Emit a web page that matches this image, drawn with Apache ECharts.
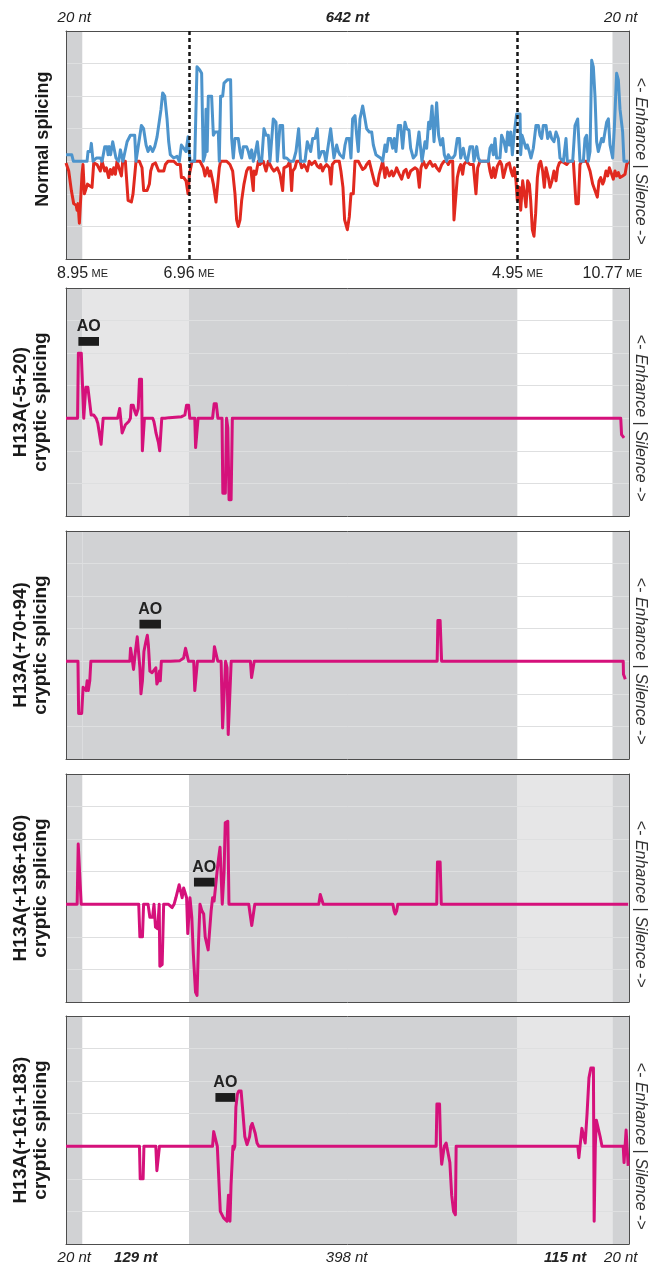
<!DOCTYPE html>
<html>
<head>
<meta charset="utf-8">
<title>H13A splicing</title>
<script src="https://cdn.jsdelivr.net/npm/echarts@6.0.0/dist/echarts.min.js"></script>
<style>
  html, body { margin: 0; padding: 0; background: #fff; }
  #chart { width: 648px; height: 1265px; }
</style>
</head>
<body>
<div id="chart"></div>
<script>
// region edges (nt): 20 | 129 | 398 | 115 | 20
var regionEdges = [0, 20, 149, 547, 662, 682];
var topLabels = ['20 nt', '642 nt', '20 nt'];
var topLabelAt = [10, 341, 672];
var bottomLabels = ['20 nt', '129 nt', '398 nt', '115 nt', '20 nt'];
var bottomLabelAt = [10, 84.5, 340, 604.5, 672];
var meScores = ['8.95', '6.96', '4.95', '10.77'];
var meSites = [20, 149, 547, 662];

var panelTitles = [
  'Normal splicing',
  'H13A(-5+20)\ncryptic splicing',
  'H13A(+70+94)\ncryptic splicing',
  'H13A(+136+160)\ncryptic splicing',
  'H13A(+161+183)\ncryptic splicing'
];
// region shade per panel: 0 white, 1 light grey, 2 grey
var panelShades = [
  [2, 0, 0, 0, 2],
  [2, 1, 2, 0, 2],
  [2, 2, 2, 0, 2],
  [2, 0, 2, 1, 2],
  [2, 0, 2, 1, 2]
];
// AO target (nt) and the level its bar sits at
var aoFrom = [null, 15, 89, 155, 181];
var aoTo = [null, 40, 115, 180, 205];
var aoLevel = [null, 2.36, 1.14, 0.68, 1.5];

// normal splicing, [nt, score]
var normalEnhance = [
  [0,0.2],[7,0.2],[9,0],[25.5,0],[26.7,0.3],[29.5,0.3],[30.7,0.55],[32.8,0],[36.8,0.1],[41.6,0.1],[43.7,0],
  [47,0.45],[49.7,0.45],[51,0.2],[52.5,0.45],[54,0.2],[56.6,0.6],[59,0.6],[60.5,0.1],[63.8,0],[65.9,0.35],
  [67.9,0.35],[69,0],[74,0.6],[76,0.6],[78,0.8],[83.2,0.8],[84.8,0],[91.3,1.1],[94,1.0],[97,0.5],[99.4,0.3],
  [102,0.45],[105,0.3],[107.5,0.45],[110.3,0.75],[112.3,0.8],[115.1,1.6],[117.1,2.1],[119.6,2.0],[122.4,1.3],
  [124.4,0.6],[126.4,0.2],[130.5,0.1],[134.5,0.15],[137.3,0],[139.8,0.5],[142.6,0.4],[145.4,0.3],[147.8,0.75],
  [150.3,0],[155.9,0],[158.7,2.9],[162,2.8],[164.3,2.7],[166.3,0],[168.5,0.2],[169.6,1.6],[171,0.3],[172.4,2.0],
  [176.4,2.0],[178.5,0.8],[180.5,0.9],[184.5,0.9],[185.7,0],[187.3,2.0],[189.8,2.0],[191.4,2.4],[193.8,2.4],
  [195.4,2.5],[199.4,2.5],[200.7,0.7],[202.7,0.1],[204.7,0.7],[208.7,0.7],[210.8,0.3],[212.8,0.1],[214.8,0.45],
  [218.8,0.45],[220.9,0.3],[222.9,0.1],[224.9,0.35],[226.9,0],[228.9,0.2],[231.8,0.6],[234.2,0],[237,0],
  [239.8,1.0],[242.3,0.8],[245.1,0.8],[247.1,0],[251.1,1.3],[254.4,1.2],[256,0],[259.2,1.1],[262.4,1.1],
  [264,0.1],[267.3,0.1],[271.3,0],[275.4,0],[278.6,0.3],[281.8,1.0],[284.2,0],[289.5,0],[292.3,0.6],[294.7,0.6],
  [296.4,0.3],[298.8,0.7],[301.6,0.7],[304.4,1.0],[306.5,0.1],[309.7,0.3],[312.5,0.3],[314.9,0],[320.6,1.0],
  [323,1.0],[324.6,0.1],[327.9,0.5],[329.9,0.3],[331.9,0.2],[335.9,0.1],[338,0.5],[340,0.7],[343.2,0.7],
  [345.2,0.1],[347.2,1.3],[350.1,1.4],[352.1,0.8],[354.1,0.3],[356.1,1.3],[359.4,1.7],[362.2,1.3],[364.2,1.0],
  [367.4,0.9],[370.3,0.9],[372.3,0.5],[375.5,0.2],[378.3,0.15],[381.2,0.1],[383.6,0],[386.4,0.5],[388.4,0.3],
  [390.5,0.7],[393.3,0.7],[395.7,0.4],[397.7,0.7],[399.7,0.3],[402.6,1.1],[405.4,1.1],[407.8,0.4],[410.6,1.2],
  [412.7,1.0],[415.5,0.95],[417.5,0.4],[420.7,0.1],[424,0.2],[427.6,0.9],[429.6,0.9],[431.2,0],[434.9,0.6],
  [436.9,0.4],[439.3,1.2],[440.9,1.0],[443.4,1.7],[445.8,0.6],[449,1.8],[451.4,0.8],[453.8,0.5],[456.3,0.7],
  [458.3,0.2],[461.1,0],[463.1,0.2],[465.2,0.1],[468.4,0.1],[471.2,0.2],[474,0.7],[476.5,0.7],[478.1,0.1],
  [481.3,0.4],[483.7,0.1],[486.2,0],[489.4,0.45],[492.6,0.45],[494.2,0],[497.5,0.45],[499.5,0.1],[501.5,0],
  [511.6,0],[513.6,0.4],[515.6,0.5],[517.7,0.2],[519.7,0.7],[521.7,0.1],[525.7,0.1],[527.7,0.8],[530.6,0.6],
  [533,0.3],[535,0.9],[537,0.5],[538.7,0.9],[540.7,0.2],[543.1,0.9],[545.9,1.45],[550,1.45],[550.8,0.2],
  [552.4,0.8],[554.8,0.6],[557.2,0.4],[558.8,0.5],[561.3,0.3],[563.3,0.1],[566.1,0.4],[569.3,1.1],[572.2,1.1],
  [574.2,0.8],[576.2,0.7],[578.2,1.1],[581.5,1.1],[583.5,0.7],[586.3,0.9],[588.3,0.7],[591.1,0.6],[593.6,0.9],
  [596.4,0.7],[598.4,0.1],[602.5,0],[605.7,0.7],[607.3,0],[613.8,0],[616.6,1.1],[619.8,1.3],[622.6,0],
  [626.7,0],[628.7,0.7],[630.7,0.8],[632.7,0],[634.8,0.3],[636.8,3.1],[638.8,2.9],[640.8,2.0],[642.8,0.6],
  [644.8,0.3],[646.9,0.5],[648.9,0.7],[650.9,0.6],[652.9,0.6],[654.9,1.2],[657,1.3],[659,0.5],[662.2,0.1],
  [664.2,1.0],[667,2.7],[669.1,2.5],[671.1,1.6],[674.3,0.9],[675.9,0],[681.2,0]
];
var normalSilence = [
  [0,-0.05],[3.3,-0.3],[6.5,-0.9],[9.3,-1.3],[12.2,-1.35],[13.4,-1.5],[14.6,-1.3],[16.2,-1.9],[17.8,-1.9],
  [19.4,-0.4],[20.6,-0.1],[22.3,-1.0],[24.5,-1.0],[26,-0.7],[28.5,-0.75],[31.5,-0.8],[33.6,-0.05],[37.6,-0.1],
  [39.6,-0.1],[41.6,-0.3],[43.7,0],[46.9,-0.3],[48.9,-0.2],[51.7,-0.5],[53.8,-0.25],[55.8,-0.4],[57.8,-0.2],
  [59.8,-0.4],[61.8,0],[63.8,0],[67.1,-0.45],[68.7,0],[71.9,0],[75.2,-1.2],[79.2,-1.25],[81.2,-1.0],[83.2,-0.95],
  [84.8,0],[88.9,0],[92.1,-0.2],[94.1,-0.9],[98.2,-0.9],[101,-0.7],[102.6,-0.3],[105,-0.1],[108.3,-0.05],
  [112.3,-0.3],[115.5,-0.3],[118.4,-0.3],[120.4,-0.1],[123.6,0],[130.5,0],[134.5,-0.1],[138.5,-0.1],[139.8,-0.5],
  [142.6,-0.5],[145.4,-0.6],[147.8,-1.0],[149.5,-0.4],[152.7,0],[162.3,0],[166.3,-0.2],[168.4,-0.45],
  [171.2,-0.2],[173.6,-0.45],[175.2,-0.3],[178.5,-0.7],[181.7,-1.25],[183.3,-1.2],[185.7,-0.2],[187.3,0],
  [194.6,0],[198.6,-0.1],[201.9,-0.3],[204.7,-1.0],[206.7,-1.8],[208.7,-2.0],[210.8,-1.8],[212.8,-1.2],
  [215.6,-0.7],[218.8,-0.3],[220.9,-0.2],[223.7,-0.2],[226.9,-0.9],[227.7,-0.3],[230.1,-0.4],[233,0],[235,-0.1],
  [239,0],[242.3,-0.3],[245.1,0],[249.1,-0.2],[251.9,-0.3],[256,-0.2],[259.2,-0.4],[262.4,-0.9],[264,-0.2],
  [268.1,-0.15],[271.3,0],[273.3,-0.9],[274.6,-0.3],[277.4,-0.2],[279.4,0],[283.4,0],[285.5,-0.2],[288.3,-0.1],
  [290.7,-0.2],[292.3,-0.3],[294.7,0],[297.6,-0.1],[301.6,0],[304.4,-0.15],[306.9,-0.2],[308.5,-0.1],
  [310.9,-0.3],[312.5,-0.2],[315.7,-0.1],[319,-0.2],[321,-0.7],[322.6,-0.1],[325.8,0],[331,0],[333,-0.3],
  [335.5,-0.8],[337.5,-1.8],[340.8,-2.1],[343.2,-1.7],[345.2,-1.0],[348,-1.0],[350.1,0],[354.1,0],[356.1,-0.1],
  [359.4,-0.25],[362.2,-0.2],[364.2,-0.1],[367.4,0],[370.3,-0.3],[372.3,-0.5],[374.3,-0.7],[377.1,-0.75],
  [379.5,-0.4],[381.2,-0.45],[383.6,0],[386.4,-0.5],[388.4,-0.2],[391.7,-0.45],[394.5,-0.3],[396.5,-0.45],
  [398.5,-0.35],[400.5,-0.2],[403.8,-0.4],[406.6,-0.55],[409.4,-0.3],[411.9,-0.25],[414.7,-0.5],[417.5,-0.3],
  [419.9,-0.35],[422.8,-0.2],[425.6,-0.25],[428,-0.8],[430,-0.2],[432.8,0],[436.1,-0.2],[438.1,-0.1],[440.9,0],
  [444.2,-0.15],[447,-0.1],[449,-0.2],[452.2,-0.3],[455.1,-0.1],[457.9,0],[461.1,0],[463.1,-0.1],[465.2,0],
  [468.4,0],[470,-1.8],[472.4,-1.8],[474,-0.5],[476.5,-0.2],[478.1,-0.1],[480.5,-0.4],[482.1,-0.1],[485.3,0],
  [489.4,-0.1],[493.4,-0.1],[496.6,-1.0],[498.7,-0.2],[501.5,0],[511.6,0],[513.6,-0.3],[515.6,-0.5],
  [517.7,-0.2],[519.7,-0.5],[522.5,-0.15],[525.7,0],[527.7,-0.1],[529.8,-0.5],[531.8,-0.45],[533.8,-0.1],
  [537,-0.05],[539.1,-0.3],[541.1,-0.45],[543.1,-0.2],[545.1,-0.6],[546.7,-1.2],[549.1,-0.8],[550.8,-1.5],
  [553.2,-0.6],[554.8,-0.9],[557.2,-1.4],[559.2,-0.6],[561.3,-0.7],[562.9,-1.2],[564.9,-2.1],[566.9,-2.3],
  [568.9,-1.6],[571,-0.5],[573,-0.1],[575,0],[577.4,-0.3],[579.4,-0.8],[581.5,-0.2],[584.3,-0.5],[586.3,-0.8],
  [588.7,-0.6],[591.1,-0.3],[593.6,-0.6],[595.6,-0.2],[597.6,-0.05],[600.4,0],[606.5,-0.1],[609.7,0],[614.6,0],
  [617.8,-1.3],[620.6,-1.3],[622.6,-0.1],[624.7,0],[630.7,0],[634.8,-0.3],[638,-0.7],[640.8,-0.9],[643.6,-1.1],
  [645.7,-0.6],[647.7,-0.5],[650.1,-0.7],[651.7,-0.6],[654.1,-0.3],[656.2,-0.45],[658.2,-0.2],[661,-0.4],
  [663,-0.55],[665,-0.3],[667,-0.45],[669.1,-0.35],[671.1,-0.5],[674.3,-0.45],[677.2,-0.4],[679.2,-0.1],[681.2,0]
];

// cryptic splicing with each AO, [nt, score]
var crypticM5P20 = [
  [0,0],[14,0],[15,2.0],[18.5,2.0],[21.5,0],[24,0.95],[26.5,0.95],[28.5,0.9],[30.5,0.1],[33.5,0.1],[36.5,0],
  [38.5,-0.15],[40,-0.1],[42.5,-0.8],[44,-0.8],[45,0],[62.5,0],[65,0.3],[66.5,0.3],[68,-0.45],[70,-0.4],
  [72,-0.2],[74,-0.25],[76,-0.1],[78,0],[79,0.4],[81.5,0.4],[83.5,0.2],[85,0.1],[87.5,0.3],[89,1.2],[91.5,1.2],
  [92.5,-1.0],[94,-1.0],[95,0],[105,0],[106.5,-0.1],[108,-0.3],[109,-0.45],[110.5,-0.4],[112,-0.75],[113.5,-1.0],
  [115,-1.0],[116,0],[120,0],[125,0.02],[140,0.05],[144,0.1],[146,0.4],[148.5,0.4],[150,0],[156,0],[157,-0.9],
  [159,-0.9],[160,0],[177.5,0],[179.5,0.45],[182,0.45],[184,0],[189,0],[190,-2.3],[193,-2.3],[194.5,0],
  [196,-0.3],[197.5,-2.5],[200,-2.5],[201.5,0],[672,0],[673,-0.5],[676,-0.6]
];
var crypticP70P94 = [
  [0,0],[14.5,0],[15.3,-1.6],[19,-1.6],[20.7,-0.8],[22.5,-0.8],[24.3,-0.9],[25.6,-0.6],[27,-0.9],[28.8,-0.6],
  [30.1,0],[77.3,0],[78.2,0.4],[80,0.1],[81.8,-0.25],[84.1,0.3],[86.3,0.75],[88.1,0.7],[89.5,-0.2],[90.8,-1.0],
  [92.6,-0.6],[94.4,0.3],[96.7,0.6],[98.5,0.8],[99.8,0.5],[101.6,-0.3],[104.3,-0.35],[106.5,-0.3],[108.8,-0.2],
  [110.1,-0.7],[111.5,-0.6],[113.3,-0.3],[114.2,-0.6],[115.5,0],[126.8,0],[129,-0.05],[138,0.02],[140.3,0.05],
  [142.5,0.1],[144.8,0.4],[147,0.4],[148.4,0],[154.7,0],[156,-0.9],[158.3,-0.9],[159.2,0],[178.5,0],[179.8,0.45],
  [182.1,0.45],[183.9,0],[187.9,0],[189.7,-2.05],[191.9,-2.05],[193.3,0],[195.1,-0.2],[196.5,-2.25],
  [198.7,-2.25],[200.1,0],[223.4,0],[224.8,-0.5],[226.6,-0.5],[228,0],[449.6,0],[450.5,1.25],[453.2,1.25],
  [455,0],[675,0],[675.3,-0.4],[677.5,-0.55]
];
var crypticP136P160 = [
  [0,0],[13.5,0],[14.8,1.85],[17.1,1.85],[18.4,0],[88.1,0],[89.5,-1.0],[92.6,-1.0],[94,0],[99.4,0],[101.6,-0.4],
  [104.8,-0.4],[106.6,0],[108.4,-0.7],[111.1,-0.75],[112.9,0],[113.7,-1.9],[116.5,-1.85],[118.3,0],[124.2,0],
  [126.4,0.05],[128.6,-0.1],[130.9,0],[133.1,0.2],[135.4,0.2],[137.1,0.6],[138.9,0.6],[140.7,0.2],[142.5,0.5],
  [144.3,0.45],[146.1,0.2],[147.5,-0.9],[148.8,-0.9],[150.2,0.2],[152.4,-0.4],[154.2,-1.5],[156.9,-2.7],
  [158.7,-2.8],[160.5,-1.2],[162.3,0],[164.6,-0.2],[166.8,-0.3],[168.6,-1.0],[170.4,-1.0],[172.2,-1.4],
  [174,-1.4],[175.8,-0.2],[177.6,0.2],[179.4,0.1],[181.2,0.1],[183,1.0],[184.8,1.4],[186.6,1.75],[188.4,1.7],
  [189.3,0],[191.5,1.0],[192.9,2.5],[196,2.55],[197.4,0],[200,0],[221.4,0],[223,-0.3],[225,-0.65],[227.3,-0.65],
  [228.7,0],[306.2,0],[308,0.3],[310.2,0.3],[311.6,0],[396,0],[397.4,-0.2],[398.8,-0.3],[400.6,-0.2],[401.9,0],
  [449.1,0],[450,1.3],[453.2,1.3],[454.6,0],[681,0]
];
var crypticP161P183 = [
  [0,0],[89,0],[89.9,-1.0],[93.4,-1.0],[94.4,0],[108.8,0],[110.1,-0.75],[112.3,-0.75],[113.2,0],[177.5,0],
  [178.9,0.45],[180.6,0.45],[183.3,0],[185.1,0],[186.9,-2.0],[189.1,-2.0],[190.9,-2.2],[193.2,-2.2],[195,-2.3],
  [196.8,-1.5],[198.6,-2.3],[199.9,-1.2],[202.2,0],[203.1,-0.1],[204.5,0],[205.8,1.2],[207.6,1.6],[209.4,1.7],
  [212.1,1.7],[214.4,1.0],[216.6,0.3],[219.3,0.05],[221.1,0.05],[222.4,0.3],[223.8,0.6],[225.6,0.7],[227.8,0.7],
  [229.2,0.4],[231.4,0.1],[233.6,0],[448.4,0],[449.3,1.3],[452.5,1.3],[453.8,0],[455.1,-0.55],[456.9,-0.55],
  [458.2,0],[460.5,0.1],[462.7,0.05],[465,-0.5],[467.2,-1.5],[469.5,-2.0],[471.7,-2.1],[472.6,0],[620,0],
  [621.3,-0.35],[623.5,-0.35],[624.9,0.55],[627.1,0.5],[628.9,0.1],[631.2,1.0],[633.5,2.1],[635.8,2.4],
  [638.9,2.4],[639.8,-2.3],[641.2,0],[642.5,0.8],[644.8,0.8],[647,0.3],[649.3,0],[675,0],[676,-0.5],
  [677.5,-0.5],[678.5,0.5],[680,0.5],[681,-0.6]
];
var crypticData = [null, crypticM5P20, crypticP70P94, crypticP136P160, crypticP161P183];

// styles
var FONT = '"Liberation Sans", Arial, Helvetica, sans-serif';
var shadeColors = ['#ffffff', '#e6e6e7', '#d1d2d4'];
var frameColor = '#4d4d4d';
var blue = '#4d94cc';
var red = '#e1291f';
var pink = '#d5117b';
var gridTops = [31, 288, 531, 774, 1016];
var gridH = 228;

var chart = echarts.init(document.getElementById('chart'));

function bandAreas(shades) {
  return shades.map(function (s, k) {
    return [{ xAxis: regionEdges[k], itemStyle: { color: shadeColors[s] } }, { xAxis: regionEdges[k + 1] }];
  });
}

function lineSeries(i, data, color, extra) {
  var s = {
    type: 'line', xAxisIndex: i * 2, yAxisIndex: i * 2, data: data, z: 3,
    showSymbol: false, symbol: 'none', silent: true, animation: false,
    lineStyle: { color: color, width: 3, join: 'round' }
  };
  return Object.assign(s, extra || {});
}

var grids = [], xAxes = [], yAxes = [], series = [];
var frameLine = { show: true, onZero: false, lineStyle: { color: frameColor, width: 1 } };
gridTops.forEach(function (top, i) {
  grids.push({ left: 66, top: top, width: 563, height: gridH });
  ['bottom', 'top'].forEach(function (pos) {
    xAxes.push({
      gridIndex: i, type: 'value', min: 0, max: 682, position: pos, z: 2,
      axisLine: frameLine, axisTick: { show: false }, axisLabel: { show: false }, splitLine: { show: false }
    });
  });
  ['left', 'right'].forEach(function (pos) {
    yAxes.push({
      gridIndex: i, type: 'value', min: -3, max: 4, interval: 1, position: pos, z: 2,
      axisLine: frameLine, axisTick: { show: false }, axisLabel: { show: false },
      splitLine: { show: pos === 'left', lineStyle: { color: '#dedfe0', width: 1 } }
    });
  });

  var bands = { silent: true, itemStyle: { opacity: 1 }, data: bandAreas(panelShades[i]) };
  if (i === 0) {
    series.push(lineSeries(0, normalSilence, red, { markArea: bands }));
    series.push(lineSeries(0, normalEnhance, blue, {
      markLine: {
        silent: true, symbol: ['none', 'none'], label: { show: false },
        lineStyle: { color: '#151515', width: 2.5, type: [4, 3] },
        data: meSites.slice(1, 3).map(function (v) { return { xAxis: v }; })
      }
    }));
  } else {
    series.push(lineSeries(i, crypticData[i], pink, { markArea: bands }));
    // AO target bar
    series.push(lineSeries(i, [], '#000', {
      markArea: {
        silent: true, z: 4,
        itemStyle: { color: '#1c1c1c', opacity: 1 },
        label: { show: true, position: 'top', distance: 2, color: '#222', fontFamily: FONT, fontWeight: 'bold', fontSize: 16 },
        data: [[
          { name: 'AO', xAxis: aoFrom[i], yAxis: aoLevel[i] - 0.135 },
          { xAxis: aoTo[i], yAxis: aoLevel[i] + 0.135 }
        ]]
      }
    }));
  }
});

chart.setOption({
  animation: false,
  grid: grids,
  xAxis: xAxes,
  yAxis: yAxes,
  series: series
});

// texts placed with the axes' own scales
function at(i, nt, v) {
  return chart.convertToPixel({ gridIndex: i }, [nt, v]);
}
var graphics = [];
topLabels.forEach(function (t, k) {
  var p = at(0, topLabelAt[k], 4);
  graphics.push({
    type: 'text', x: p[0], y: p[1] - 13,
    style: { text: t, fill: '#222', fontFamily: FONT, fontSize: 15, fontStyle: 'italic',
      fontWeight: k === 1 ? 'bold' : 'normal', align: 'center', verticalAlign: 'middle' }
  });
});
meScores.forEach(function (s, k) {
  var p = at(0, meSites[k], -3);
  graphics.push({
    type: 'text', x: p[0], y: p[1] + 15,
    style: { text: '{n|' + s + '} {u|ME}', align: 'center', verticalAlign: 'middle',
      rich: { n: { fontFamily: FONT, fontSize: 16, fill: '#222' }, u: { fontFamily: FONT, fontSize: 11, fill: '#222' } } }
  });
});
bottomLabels.forEach(function (t, k) {
  var p = at(4, bottomLabelAt[k], -3);
  graphics.push({
    type: 'text', x: p[0], y: p[1] + 14,
    style: { text: t, fill: '#222', fontFamily: FONT, fontSize: 15, fontStyle: 'italic',
      fontWeight: (k === 1 || k === 3) ? 'bold' : 'normal', align: 'center', verticalAlign: 'middle' }
  });
});
panelTitles.forEach(function (t, i) {
  var mid = at(i, 0, i === 0 ? 0.68 : 0.5);
  var zero = at(i, 682, 0);
  graphics.push({
    type: 'text', x: i === 0 ? 43 : 31, y: mid[1], rotation: Math.PI / 2,
    style: { text: t, fill: '#1a1a1a', fontFamily: FONT, fontSize: i === 0 ? 18 : 19, fontWeight: 'bold',
      lineHeight: 20, align: 'center', verticalAlign: 'middle' }
  });
  graphics.push({
    type: 'text', x: 640, y: zero[1], rotation: -Math.PI / 2,
    style: { text: '{a|<- }{b|Enhance}{a| | }{b|Silence}{a| ->}', align: 'center', verticalAlign: 'middle',
      rich: { a: { fontFamily: FONT, fontSize: 16, fill: '#333' },
        b: { fontFamily: FONT, fontSize: 16, fontStyle: 'italic', fill: '#333' } } }
  });
});
chart.setOption({ graphic: graphics });
</script>
</body>
</html>
